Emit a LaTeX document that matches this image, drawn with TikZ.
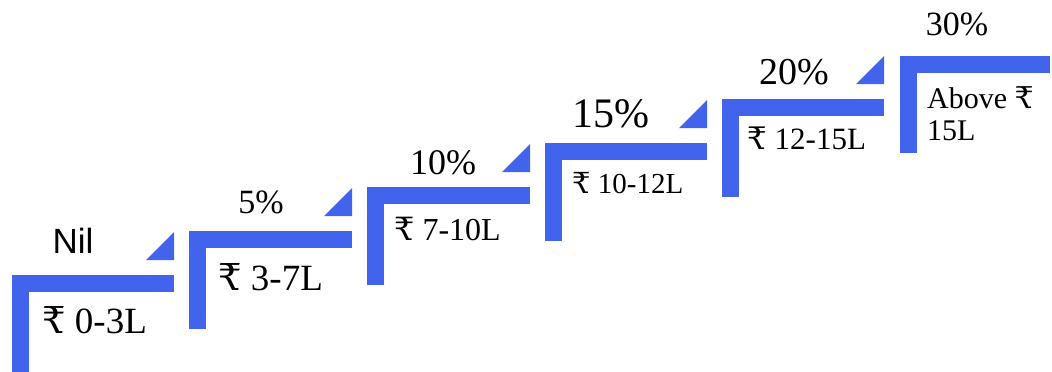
\documentclass[tikz,border=0pt]{standalone}
\usepackage{fontspec}
\setmainfont{Liberation Serif}
\setsansfont{Liberation Sans}
\newfontfamily\rupeefont{DejaVu Serif}
\newcommand\rupee{{\rupeefont ₹}}
\definecolor{stepblue}{RGB}{66,99,235}
\tikzset{
  pct/.style={inner sep=0pt, anchor=base},
  lbl/.style={inner sep=0pt, anchor=base west},
}
\newcommand\stairstep[3]{%
  \fill[stepblue] (#1,#2) rectangle (#3,#2+17);
  \fill[stepblue] (#1,#2) rectangle (#1+17,#2+98);
  \fill[stepblue] (#3,#2-43) -- (#3,#2-15) -- (#3-28,#2-15) -- cycle;
}
\newcommand\fs[1]{\fontsize{#1}{#1}\selectfont}
\begin{document}
\begin{tikzpicture}[x=1pt,y=-1pt]
\useasboundingbox (0,0) rectangle (1052,372);
\stairstep{12}{275}{174}
\stairstep{189}{231}{352}
\stairstep{367}{187}{530}
\stairstep{545}{143}{707}
\stairstep{722}{99}{884}
\fill[stepblue] (900,56) rectangle (1050,73);
\fill[stepblue] (900,56) rectangle (917,153);

\node[pct] (r1) at (73,253) {\sffamily\fs{35}Nil};
\node[pct] (r2) at (261,213) {\fs{34}5\%};
\node[pct] (r3) at (443,174) {\fs{36}10\%};
\node[pct] (r4) at (611,127) {\fs{42}15\%};
\node[pct] (r5) at (794,84) {\fs{38}20\%};
\node[pct] (r6) at (957,35) {\fs{34}30\%};

\node[lbl] (b1) at (42,333) {\fs{37}\rupee{} 0-3L};
\node[lbl] (b2) at (218,290) {\fs{37}\rupee{} 3-7L};
\node[lbl] (b3) at (394,240) {\fs{32}\rupee{} 7-10L};
\node[lbl] (b4) at (572,193) {\fs{29}\rupee{} 10-12L};
\node[lbl] (b5) at (747,149) {\fs{31}\rupee{} 12-15L};
\node[lbl] (b6) at (927,108) {\fs{30}Above \rupee};
\node[lbl] (b6b) at (927,140) {\fs{30}15L};
\end{tikzpicture}
\end{document}
